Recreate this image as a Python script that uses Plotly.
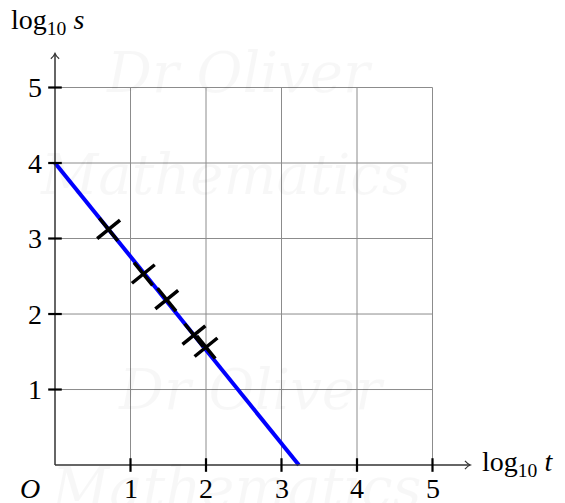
import plotly.graph_objects as go

# data
line_x = [0.0, 3.23]
line_y = [4.0, 0.0]
pts_x = [0.71, 1.17, 1.48, 1.84, 2.0]
pts_y = [3.12, 2.53, 2.19, 1.72, 1.56]
x_ticks = [1, 2, 3, 4, 5]
y_ticks = [1, 2, 3, 4, 5]
x_tick_labels = ["1", "2", "3", "4", "5"]
y_tick_labels = ["1", "2", "3", "4", "5"]

SERIF = "Liberation Serif, DejaVu Serif, serif"
FS = 28

fig = go.Figure()

shapes = []
# grid
for g in range(1, 6):
    shapes.append(dict(type="line", x0=g, x1=g, y0=0, y1=5, xref="x", yref="y",
                       line=dict(color="#8c8c8c", width=1), layer="below"))
    shapes.append(dict(type="line", x0=0, x1=5, y0=g, y1=g, xref="x", yref="y",
                       line=dict(color="#8c8c8c", width=1), layer="below"))
# axes
shapes.append(dict(type="line", x0=0, x1=5.5, y0=0, y1=0, line=dict(color="#333", width=1.5)))
shapes.append(dict(type="line", x0=0, x1=0, y0=0, y1=5.45, line=dict(color="#333", width=1.5)))
# arrowheads
shapes.append(dict(type="path", path="M 5.43,0.055 Q 5.47,0.01 5.5,0 Q 5.47,-0.01 5.43,-0.055",
                   line=dict(color="#333", width=1.2)))
shapes.append(dict(type="path", path="M -0.055,5.38 Q -0.01,5.42 0,5.45 Q 0.01,5.42 0.055,5.38",
                   line=dict(color="#333", width=1.2)))
# ticks
for t in x_ticks:
    shapes.append(dict(type="line", x0=t, x1=t, y0=-0.09, y1=0.09, line=dict(color="black", width=2.2)))
for t in y_ticks:
    shapes.append(dict(type="line", x0=-0.09, x1=0.09, y0=t, y1=t, line=dict(color="black", width=2.2)))

fig.add_trace(go.Scatter(x=line_x, y=line_y, mode="lines",
                         line=dict(color="#0000ff", width=4), hoverinfo="skip"))
fig.add_trace(go.Scatter(x=pts_x, y=pts_y, mode="markers",
                         marker=dict(symbol="cross-thin", size=21, angle=51,
                                     line=dict(color="black", width=3.5)),
                         hoverinfo="skip"))

ann = []
# watermark
wm = [("Dr Oliver", 2.45, 5.2), ("Mathematics", 2.25, 3.85),
      ("Dr Oliver", 2.6, 1.0), ("Mathematics", 2.4, -0.3)]
for txt, x, y in wm:
    ann.append(dict(x=x, y=y, text="<i>" + txt + "</i>", showarrow=False,
                    font=dict(family="DejaVu Serif, serif", size=56, color="rgba(0,0,0,0.03)")))
for t, lab in zip(x_ticks, x_tick_labels):
    ann.append(dict(x=t, y=-0.31, text=lab, showarrow=False, yanchor="middle",
                    font=dict(family=SERIF, size=FS, color="black")))
for t, lab in zip(y_ticks, y_tick_labels):
    ann.append(dict(x=-0.14, y=t, text=lab, showarrow=False, xanchor="right",
                    font=dict(family=SERIF, size=FS, color="black")))
ann.append(dict(x=-0.33, y=-0.31, text="<i>O</i>", showarrow=False, yanchor="middle",
                font=dict(family=SERIF, size=FS, color="black")))
ann.append(dict(x=5.63, y=0.02, text="log<sub>10</sub> <i>t</i>", showarrow=False, xanchor="left",
                font=dict(family=SERIF, size=FS, color="black")))
ann.append(dict(x=-0.61, y=5.87, text="log<sub>10</sub> <i>s</i>", showarrow=False, xanchor="left",
                font=dict(family=SERIF, size=FS, color="black")))

fig.update_layout(
    width=557, height=495, margin=dict(l=0, r=0, t=0, b=0),
    paper_bgcolor="white", plot_bgcolor="white", showlegend=False,
    xaxis=dict(range=[-0.6225, 6.755], visible=False, fixedrange=True),
    yaxis=dict(range=[-0.503, 6.053], visible=False, fixedrange=True),
    shapes=shapes, annotations=ann,
)
fig.write_html("out.html")
